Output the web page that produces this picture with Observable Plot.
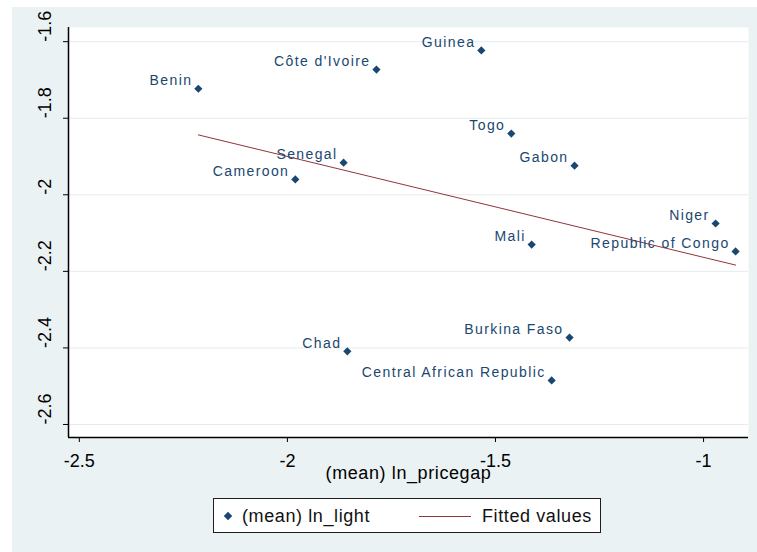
<!DOCTYPE html>
<html>
<head>
<meta charset="utf-8">
<script src="https://cdn.jsdelivr.net/npm/d3@7"></script>
<script src="https://cdn.jsdelivr.net/npm/@observablehq/plot@0.6"></script>
<style>
  html, body { margin: 0; padding: 0; background: #ffffff; }
  #wrap { position: relative; width: 757px; height: 552px; font-family: "Liberation Sans", Arial, sans-serif; }
  #bg { position: absolute; left: 12px; top: 7px; right: 0; bottom: 0; background: #eaf2f3; }
  #chart { position: absolute; left: 0; top: 0; }
  #legend { position: absolute; left: 213px; top: 498px; width: 388px; height: 35px; box-sizing: border-box;
            border: 1.5px solid #1e1e1e; background: #ffffff; font-size: 18px; letter-spacing: 0.6px; color: #111; }
  #legend .item { position: absolute; top: 50%; transform: translateY(-50%); white-space: nowrap; }
  #legend .diamond { position: absolute; left: 11px; top: 13.5px; width: 6px; height: 6px; background: #1a476f; transform: rotate(45deg); }
  #legend .line { position: absolute; left: 205px; top: 16.5px; width: 52px; height: 0; border-top: 1px solid #90353b; }
</style>
</head>
<body>
<div id="wrap">
  <div id="bg"></div>
  <div id="chart"></div>
  <div id="legend">
    <div class="diamond"></div>
    <span class="item" style="left:28px">(mean) ln_light</span>
    <div class="line"></div>
    <span class="item" style="left:268px">Fitted values</span>
  </div>
</div>
<script>
// Country means: log price gap (x) against log night light (y)
const countries = ["Benin", "Côte d'Ivoire", "Senegal", "Cameroon", "Guinea", "Togo", "Gabon",
                   "Niger", "Mali", "Republic of Congo", "Chad", "Burkina Faso", "Central African Republic"];
const lnPricegap = [-2.214, -1.786, -1.865, -1.981, -1.534, -1.462, -1.310,
                    -0.971, -1.413, -0.923, -1.856, -1.322, -1.365];
const lnLight = [-1.723, -1.673, -1.916, -1.960, -1.623, -1.840, -1.924,
                 -2.075, -2.130, -2.148, -2.409, -2.373, -2.485];

const xTicks = [-2.5, -2, -1.5, -1];
const yTicks = [-2.6, -2.4, -2.2, -2, -1.8, -1.6];
const xDomain = [-2.526, -0.892];
const yDomain = [-2.634, -1.563];
const xTitle = "(mean) ln_pricegap";

const data = countries.map((name, i) => ({name, x: lnPricegap[i], y: lnLight[i]}));

const navy = "#1a476f";
const maroon = "#90353b";

const chart = Plot.plot({
  width: 757,
  height: 552,
  marginLeft: 68,
  marginRight: 9,
  marginTop: 27,
  marginBottom: 115,
  style: {background: "transparent", fontFamily: "'Liberation Sans', Arial, sans-serif", fontSize: "18px", color: "#000"},
  x: {domain: xDomain, ticks: xTicks, tickSize: 5, tickPadding: 12, tickFormat: d => String(d), label: null},
  y: {domain: yDomain, ticks: yTicks, tickSize: 5, tickFormat: () => "", label: null},
  marks: [
    // white plot region
    Plot.frame({fill: "white", stroke: null}),
    // horizontal grid
    Plot.ruleY(yTicks, {stroke: "#e4ecee", strokeWidth: 1}),
    // axis lines
    Plot.ruleX([xDomain[0]], {stroke: "#000", strokeWidth: 1.5}),
    Plot.ruleY([yDomain[0]], {stroke: "#000", strokeWidth: 1.5}),
    // rotated y tick labels
    Plot.text(yTicks, {y: d => d, text: d => String(d), frameAnchor: "left", dx: -23, rotate: -90,
                       fontSize: 18, fill: "#000"}),
    // x axis title
    Plot.text([xTitle], {text: d => d, frameAnchor: "bottom", dy: 41, fontSize: 18, fill: "#000"}),
    // fitted values
    Plot.linearRegressionY(data, {x: "x", y: "y", ci: 0, stroke: maroon, strokeWidth: 1}),
    // points
    Plot.dot(data, {x: "x", y: "y", symbol: "diamond2", r: 3.7, fill: navy, stroke: null}),
    // point labels
    Plot.text(data, {x: "x", y: "y", text: "name", textAnchor: "end", dx: -6, dy: -8,
                     fontSize: 14, fill: navy})
  ]
});

// widen the tracking of the marker labels and the axis title
d3.select(chart).selectAll("text")
  .filter(function () { return countries.includes(this.textContent); })
  .style("letter-spacing", "1.4px");
d3.select(chart).selectAll("text")
  .filter(function () { return this.textContent === xTitle; })
  .style("letter-spacing", "0.6px");

document.getElementById("chart").appendChild(chart);
</script>
</body>
</html>
